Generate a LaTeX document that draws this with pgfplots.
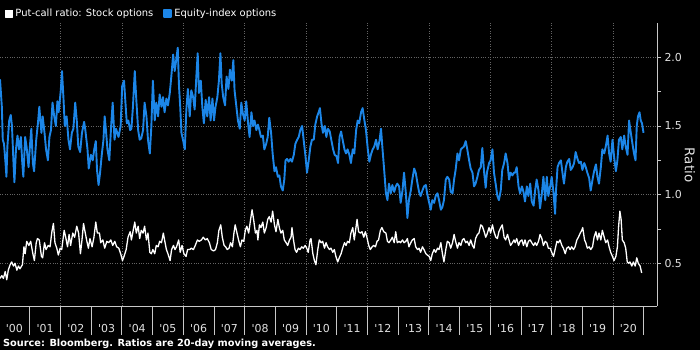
\documentclass[border=0pt]{standalone}
\usepackage{pgfplots}
\pgfplotsset{compat=1.18}
\usepackage{fontspec}
\setmainfont{DejaVu Sans}
\newfontfamily\dv{DejaVu Sans}
\definecolor{bblue}{RGB}{28,134,232}
\definecolor{axgray}{RGB}{200,200,200}
\definecolor{grgray}{RGB}{100,100,100}
\definecolor{lblgray}{RGB}{225,225,225}
\begin{document}
\begin{tikzpicture}[x=1bp,y=1bp]
\path[use as bounding box, fill=black] (0,0) rectangle (700,350);
\begin{axis}[
  at={(0bp,44bp)}, anchor=south west,
  width=657bp, height=283bp, scale only axis,
  xmin=2000.03, xmax=2021.43, ymin=0.189, ymax=2.25,
  axis x line*=bottom, axis y line*=right,
  axis line style={-, draw=axgray, line width=0.8bp},
  tick align=outside,
  major tick length=4bp, minor tick length=4bp,
  every tick/.style={draw=axgray, line width=0.8bp},
  every major x tick/.style={draw=none},
  xtick={2000.5,2001.5,...,2020.5},
  xticklabels={'00,'01,'02,'03,'04,'05,'06,'07,'08,'09,'10,'11,'12,'13,'14,'15,'16,'17,'18,'19,'20},
  minor xtick={2002,2004,...,2020},
  extra x ticks={2001,2002,...,2021},
  extra x tick labels={},
  extra tick style={major tick length=29bp, grid=none, every major x tick/.style={draw=axgray, line width=0.8bp}},
  xminorgrids=true, ymajorgrids=true, xmajorgrids=false, yminorgrids=false,
  grid style={draw=grgray, dotted, line width=0.6bp},
  minor grid style={draw=grgray, dotted, line width=0.6bp},
  ytick={0.5,1.0,1.5,2.0},
  yticklabels={0.5,1.0,1.5,2.0},
  minor ytick={0.75,1.25,1.75},
  xticklabel style={font=\dv\fontsize{11}{13}\selectfont, text=lblgray, yshift=-10.5bp},
  yticklabel style={font=\dv\fontsize{11}{13}\selectfont, text=lblgray},
  /pgf/number format/assume math mode=true,
  every axis y label/.style={at={(axis description cs:1.0502,0.498)}, anchor=center, rotate=-90},
  ylabel={\dv\fontsize{13.5}{15}\selectfont\color{lblgray}Ratio},
  legend columns=2,
  legend image code/.code={\fill[#1] (0bp,-3.5bp) rectangle (7bp,3.5bp);},
  legend style={at={(axis description cs:0.0076,1.032)}, anchor=west,
    draw=none, fill=none, text=white, font=\dv\fontsize{10}{12}\selectfont,
    inner xsep=0pt, inner ysep=0pt,
    nodes={inner xsep=2bp, inner ysep=1bp},
    /tikz/every even column/.append style={column sep=8bp}},
]
\addplot[white, line width=1.3bp, line join=round] coordinates {
(2000.03,0.39)(2000.09,0.41)(2000.14,0.39)(2000.20,0.44)(2000.25,0.38)(2000.30,0.45)(2000.36,0.49)(2000.41,0.51)(2000.47,0.48)(2000.52,0.50)(2000.58,0.45)(2000.63,0.48)(2000.68,0.46)(2000.76,0.49)(2000.81,0.62)(2000.85,0.57)(2000.90,0.66)(2000.97,0.63)
(2001.03,0.66)(2001.10,0.57)(2001.15,0.52)(2001.21,0.65)(2001.25,0.68)(2001.31,0.67)(2001.38,0.55)(2001.42,0.54)(2001.48,0.65)(2001.53,0.60)(2001.60,0.63)(2001.66,0.62)(2001.72,0.73)(2001.77,0.79)(2001.82,0.65)(2001.88,0.61)(2001.93,0.56)(2001.99,0.61)
(2002.04,0.60)(2002.12,0.74)(2002.17,0.69)(2002.23,0.62)(2002.28,0.71)(2002.33,0.63)(2002.40,0.72)(2002.46,0.69)(2002.53,0.77)(2002.59,0.72)(2002.65,0.57)(2002.70,0.67)(2002.75,0.79)(2002.80,0.73)(2002.86,0.66)(2002.91,0.61)(2002.96,0.68)
(2003.03,0.62)(2003.09,0.69)(2003.15,0.80)(2003.20,0.72)(2003.27,0.72)(2003.31,0.65)(2003.38,0.67)(2003.44,0.61)(2003.51,0.66)(2003.57,0.65)(2003.64,0.67)(2003.70,0.63)(2003.77,0.66)(2003.83,0.62)(2003.90,0.61)(2003.96,0.57)
(2004.02,0.52)(2004.07,0.55)(2004.14,0.60)(2004.20,0.69)(2004.27,0.73)(2004.31,0.67)(2004.36,0.73)(2004.42,0.80)(2004.47,0.72)(2004.53,0.77)(2004.58,0.68)(2004.63,0.74)(2004.69,0.72)(2004.74,0.77)(2004.80,0.67)(2004.85,0.72)(2004.91,0.58)(2004.96,0.57)
(2005.01,0.60)(2005.07,0.57)(2005.12,0.63)(2005.18,0.62)(2005.23,0.66)(2005.29,0.65)(2005.35,0.72)(2005.39,0.67)(2005.45,0.60)(2005.50,0.57)(2005.57,0.52)(2005.62,0.60)(2005.68,0.63)(2005.73,0.60)(2005.78,0.62)(2005.85,0.67)(2005.90,0.58)(2005.96,0.63)
(2006.02,0.57)(2006.09,0.55)(2006.14,0.60)(2006.21,0.60)(2006.26,0.61)(2006.33,0.60)(2006.39,0.63)(2006.46,0.67)(2006.52,0.66)(2006.59,0.67)(2006.65,0.69)(2006.72,0.67)(2006.78,0.68)(2006.85,0.65)(2006.91,0.60)(2006.99,0.59)
(2007.05,0.60)(2007.11,0.65)(2007.16,0.74)(2007.22,0.78)(2007.27,0.69)(2007.33,0.63)(2007.38,0.62)(2007.43,0.60)(2007.49,0.61)(2007.54,0.65)(2007.60,0.62)(2007.65,0.72)(2007.69,0.78)(2007.75,0.72)(2007.80,0.67)(2007.86,0.62)(2007.91,0.67)(2007.97,0.66)
(2008.02,0.74)(2008.07,0.77)(2008.13,0.72)(2008.18,0.80)(2008.24,0.89)(2008.29,0.82)(2008.35,0.72)(2008.40,0.74)(2008.43,0.67)(2008.48,0.78)(2008.53,0.76)(2008.59,0.80)(2008.64,0.72)(2008.70,0.76)(2008.75,0.82)(2008.80,0.84)(2008.86,0.80)(2008.91,0.88)(2008.97,0.78)
(2009.02,0.73)(2009.08,0.82)(2009.13,0.76)(2009.18,0.72)(2009.24,0.74)(2009.29,0.67)(2009.35,0.65)(2009.40,0.63)(2009.46,0.67)(2009.51,0.69)(2009.54,0.76)(2009.59,0.67)(2009.64,0.60)(2009.69,0.58)(2009.75,0.61)(2009.80,0.60)(2009.86,0.62)(2009.91,0.61)(2009.97,0.63)
(2010.02,0.61)(2010.07,0.58)(2010.13,0.67)(2010.16,0.68)(2010.22,0.57)(2010.27,0.52)(2010.32,0.49)(2010.38,0.60)(2010.43,0.67)(2010.49,0.65)(2010.54,0.66)(2010.60,0.61)(2010.65,0.65)(2010.70,0.62)(2010.76,0.60)(2010.81,0.61)(2010.87,0.58)(2010.92,0.60)(2010.97,0.55)
(2011.03,0.51)(2011.08,0.54)(2011.14,0.57)(2011.19,0.61)(2011.25,0.65)(2011.30,0.63)(2011.35,0.66)(2011.41,0.65)(2011.46,0.72)(2011.52,0.76)(2011.57,0.67)(2011.63,0.77)(2011.66,0.82)(2011.71,0.73)(2011.77,0.72)(2011.82,0.73)(2011.88,0.69)(2011.93,0.73)(2011.98,0.69)
(2012.04,0.63)(2012.09,0.60)(2012.15,0.62)(2012.20,0.63)(2012.26,0.62)(2012.31,0.66)(2012.36,0.67)(2012.42,0.74)(2012.47,0.76)(2012.53,0.73)(2012.60,0.72)(2012.65,0.66)(2012.70,0.65)(2012.76,0.67)(2012.81,0.69)(2012.87,0.65)(2012.92,0.73)(2012.97,0.65)
(2013.03,0.66)(2013.08,0.65)(2013.14,0.67)(2013.19,0.65)(2013.25,0.66)(2013.30,0.68)(2013.35,0.62)(2013.41,0.65)(2013.46,0.67)(2013.52,0.68)(2013.57,0.62)(2013.63,0.60)(2013.68,0.61)(2013.73,0.58)(2013.79,0.62)(2013.84,0.60)(2013.90,0.57)(2013.95,0.56)
(2014.01,0.55)(2014.06,0.52)(2014.11,0.57)(2014.17,0.60)(2014.22,0.58)(2014.28,0.61)(2014.33,0.60)(2014.39,0.65)(2014.44,0.57)(2014.49,0.51)(2014.55,0.60)(2014.60,0.66)(2014.66,0.65)(2014.71,0.61)(2014.77,0.65)(2014.82,0.71)(2014.87,0.66)(2014.93,0.61)(2014.98,0.65)
(2015.04,0.63)(2015.09,0.67)(2015.14,0.68)(2015.20,0.65)(2015.25,0.66)(2015.31,0.63)(2015.36,0.67)(2015.42,0.63)(2015.47,0.61)(2015.52,0.68)(2015.58,0.71)(2015.63,0.72)(2015.69,0.78)(2015.74,0.77)(2015.80,0.73)(2015.85,0.69)(2015.89,0.71)(2015.96,0.76)
(2016.01,0.72)(2016.07,0.78)(2016.12,0.73)(2016.18,0.69)(2016.23,0.68)(2016.28,0.73)(2016.34,0.76)(2016.39,0.78)(2016.45,0.69)(2016.50,0.67)(2016.56,0.71)(2016.61,0.67)(2016.66,0.63)(2016.72,0.65)(2016.77,0.67)(2016.81,0.65)(2016.86,0.68)(2016.92,0.63)(2016.97,0.66)
(2017.03,0.67)(2017.08,0.63)(2017.13,0.67)(2017.19,0.62)(2017.24,0.66)(2017.30,0.67)(2017.35,0.65)(2017.41,0.63)(2017.46,0.65)(2017.51,0.63)(2017.57,0.66)(2017.62,0.71)(2017.68,0.68)(2017.73,0.63)(2017.79,0.66)(2017.84,0.65)(2017.89,0.61)(2017.95,0.61)
(2018.00,0.58)(2018.06,0.55)(2018.11,0.60)(2018.17,0.66)(2018.22,0.65)(2018.27,0.67)(2018.33,0.63)(2018.38,0.61)(2018.44,0.57)(2018.49,0.61)(2018.55,0.62)(2018.60,0.60)(2018.65,0.62)(2018.71,0.60)(2018.76,0.62)(2018.82,0.67)(2018.87,0.69)(2018.93,0.72)(2018.98,0.74)
(2019.01,0.76)(2019.07,0.67)(2019.11,0.65)(2019.16,0.61)(2019.22,0.62)(2019.27,0.60)(2019.33,0.62)(2019.38,0.69)(2019.44,0.73)(2019.49,0.67)(2019.54,0.72)(2019.60,0.67)(2019.65,0.74)(2019.71,0.69)(2019.76,0.65)(2019.82,0.67)(2019.87,0.62)(2019.92,0.58)(2019.98,0.55)
(2020.03,0.52)(2020.09,0.55)(2020.14,0.62)(2020.18,0.77)(2020.22,0.88)(2020.26,0.82)(2020.30,0.67)(2020.36,0.65)(2020.41,0.61)(2020.46,0.51)(2020.50,0.50)(2020.55,0.51)(2020.61,0.48)(2020.66,0.51)(2020.72,0.48)(2020.77,0.54)(2020.82,0.50)(2020.88,0.48)(2020.93,0.43)
};
\addlegendentry{Put-call ratio: Stock options}
\addplot[bblue, line width=1.9bp, line join=round] coordinates {
(2000.03,1.84)(2000.09,1.64)(2000.12,1.40)(2000.16,1.37)(2000.21,1.23)(2000.24,1.13)(2000.27,1.35)(2000.33,1.54)(2000.38,1.58)(2000.42,1.50)(2000.47,1.23)(2000.50,1.09)(2000.55,1.33)(2000.60,1.43)(2000.65,1.33)(2000.71,1.42)(2000.75,1.25)(2000.79,1.13)(2000.85,1.42)(2000.90,1.34)(2000.96,1.20)
(2001.01,1.37)(2001.05,1.48)(2001.10,1.23)(2001.14,1.17)(2001.21,1.40)(2001.27,1.53)(2001.31,1.64)(2001.38,1.45)(2001.42,1.57)(2001.48,1.45)(2001.53,1.33)(2001.59,1.25)(2001.64,1.42)(2001.69,1.47)(2001.74,1.67)(2001.79,1.58)(2001.85,1.50)(2001.90,1.68)(2001.94,1.60)
(2002.01,1.76)(2002.05,1.90)(2002.10,1.69)(2002.14,1.50)(2002.20,1.57)(2002.26,1.40)(2002.31,1.33)(2002.37,1.45)(2002.42,1.48)(2002.48,1.67)(2002.53,1.54)(2002.58,1.35)(2002.64,1.31)(2002.70,1.45)(2002.77,1.53)(2002.81,1.47)(2002.88,1.33)(2002.92,1.19)(2002.99,1.29)
(2003.05,1.25)(2003.10,1.33)(2003.15,1.39)(2003.19,1.18)(2003.24,1.07)(2003.29,1.16)(2003.34,1.28)(2003.40,1.40)(2003.44,1.57)(2003.48,1.47)(2003.53,1.33)(2003.59,1.25)(2003.65,1.50)(2003.70,1.67)(2003.76,1.40)(2003.81,1.48)(2003.89,1.42)(2003.96,1.50)
(2004.01,1.79)(2004.07,1.83)(2004.11,1.69)(2004.16,1.52)(2004.21,1.54)(2004.27,1.47)(2004.31,1.48)(2004.36,1.64)(2004.42,1.90)(2004.47,1.69)(2004.53,1.47)(2004.58,1.40)(2004.63,1.41)(2004.69,1.47)(2004.74,1.67)(2004.80,1.57)(2004.85,1.40)(2004.91,1.30)(2004.96,1.50)
(2005.01,1.83)(2005.07,1.54)(2005.12,1.67)(2005.18,1.57)(2005.23,1.73)(2005.29,1.64)(2005.34,1.71)(2005.39,1.60)(2005.45,1.70)(2005.50,1.65)(2005.56,1.74)(2005.61,1.86)(2005.67,2.02)(2005.72,1.90)(2005.77,1.98)(2005.82,2.07)(2005.86,1.79)(2005.90,1.64)(2005.94,1.45)(2005.99,1.40)
(2006.05,1.33)(2006.10,1.62)(2006.15,1.77)(2006.21,1.57)(2006.26,1.76)(2006.32,1.71)(2006.37,1.62)(2006.43,1.88)(2006.47,2.03)(2006.51,1.74)(2006.57,1.83)(2006.62,1.64)(2006.67,1.52)(2006.73,1.69)(2006.78,1.57)(2006.84,1.71)(2006.89,1.54)(2006.95,1.70)
(2007.00,1.54)(2007.05,1.64)(2007.11,1.71)(2007.16,1.83)(2007.21,2.03)(2007.25,1.81)(2007.30,1.71)(2007.36,1.65)(2007.41,1.86)(2007.47,1.77)(2007.52,1.91)(2007.58,1.83)(2007.63,1.98)(2007.67,1.76)(2007.73,1.64)(2007.78,1.54)(2007.84,1.48)(2007.89,1.67)(2007.94,1.59)
(2008.00,1.54)(2008.05,1.68)(2008.11,1.52)(2008.16,1.42)(2008.22,1.60)(2008.27,1.50)(2008.32,1.54)(2008.38,1.47)(2008.43,1.51)(2008.48,1.47)(2008.53,1.42)(2008.59,1.43)(2008.64,1.33)(2008.70,1.37)(2008.75,1.42)(2008.80,1.56)(2008.86,1.45)(2008.91,1.30)(2008.97,1.17)
(2009.02,1.20)(2009.08,1.13)(2009.13,1.14)(2009.18,1.06)(2009.24,1.03)(2009.29,1.11)(2009.33,1.25)(2009.38,1.26)(2009.43,1.24)(2009.49,1.26)(2009.54,1.24)(2009.60,1.29)(2009.65,1.37)(2009.71,1.40)(2009.76,1.42)(2009.81,1.47)(2009.87,1.50)(2009.92,1.40)(2009.98,1.28)
(2010.03,1.16)(2010.08,1.24)(2010.14,1.35)(2010.19,1.40)(2010.25,1.40)(2010.30,1.51)(2010.36,1.57)(2010.41,1.60)(2010.45,1.63)(2010.50,1.52)(2010.55,1.45)(2010.61,1.50)(2010.66,1.42)(2010.71,1.48)(2010.77,1.46)(2010.82,1.40)(2010.88,1.33)(2010.93,1.29)(2010.99,1.28)
(2011.04,1.23)(2011.09,1.42)(2011.14,1.46)(2011.19,1.40)(2011.25,1.33)(2011.30,1.30)(2011.35,1.33)(2011.41,1.29)(2011.46,1.23)(2011.52,1.33)(2011.57,1.30)(2011.63,1.47)(2011.68,1.54)(2011.73,1.52)(2011.79,1.60)(2011.84,1.63)(2011.90,1.54)(2011.95,1.47)
(2012.01,1.33)(2012.06,1.24)(2012.11,1.29)(2012.17,1.33)(2012.22,1.35)(2012.28,1.40)(2012.33,1.33)(2012.39,1.39)(2012.44,1.48)(2012.49,1.33)(2012.55,1.16)(2012.60,1.01)(2012.65,0.96)(2012.70,1.08)(2012.76,1.01)(2012.81,1.07)(2012.87,1.02)(2012.92,1.06)(2012.97,1.08)
(2013.03,1.06)(2013.08,0.94)(2013.14,1.03)(2013.19,1.16)(2013.25,1.01)(2013.30,0.83)(2013.35,0.96)(2013.41,1.03)(2013.46,1.11)(2013.52,1.19)(2013.57,1.16)(2013.63,1.08)(2013.68,1.02)(2013.73,0.99)(2013.79,1.03)(2013.84,1.06)(2013.90,1.07)(2013.95,1.00)
(2014.01,0.94)(2014.06,0.89)(2014.11,0.96)(2014.17,0.94)(2014.22,0.99)(2014.28,1.01)(2014.33,0.96)(2014.39,0.89)(2014.44,0.91)(2014.49,0.96)(2014.55,1.11)(2014.60,1.13)(2014.66,1.11)(2014.71,1.02)(2014.77,1.01)(2014.82,1.11)(2014.87,1.18)(2014.93,1.30)(2014.98,1.25)
(2015.04,1.33)(2015.09,1.34)(2015.14,1.35)(2015.20,1.39)(2015.25,1.33)(2015.31,1.25)(2015.36,1.19)(2015.42,1.16)(2015.47,1.06)(2015.52,1.08)(2015.58,1.13)(2015.63,1.18)(2015.69,1.20)(2015.74,1.34)(2015.80,1.16)(2015.85,1.05)(2015.89,1.16)(2015.96,1.23)
(2016.01,1.25)(2016.07,1.33)(2016.12,1.16)(2016.18,1.07)(2016.23,0.99)(2016.28,0.96)(2016.34,1.03)(2016.39,1.18)(2016.45,1.23)(2016.50,1.30)(2016.56,1.23)(2016.61,1.11)(2016.66,1.16)(2016.72,1.14)(2016.77,1.16)(2016.81,1.16)(2016.86,1.20)(2016.92,1.06)(2016.97,1.01)
(2017.03,1.06)(2017.08,1.02)(2017.13,0.95)(2017.19,1.06)(2017.24,0.99)(2017.30,1.08)(2017.35,0.95)(2017.41,0.92)(2017.46,1.03)(2017.51,1.11)(2017.57,1.03)(2017.62,0.90)(2017.68,1.01)(2017.73,1.13)(2017.79,0.96)(2017.84,1.13)(2017.89,0.99)(2017.95,1.06)
(2018.00,1.13)(2018.06,1.01)(2018.11,0.86)(2018.14,1.03)(2018.19,1.20)(2018.24,1.23)(2018.30,1.25)(2018.35,1.16)(2018.40,1.08)(2018.46,1.20)(2018.51,1.24)(2018.57,1.26)(2018.62,1.18)(2018.68,1.20)(2018.73,1.23)(2018.78,1.31)(2018.84,1.26)(2018.89,1.23)(2018.95,1.24)
(2019.00,1.18)(2019.06,1.23)(2019.11,1.20)(2019.16,1.16)(2019.22,1.12)(2019.27,1.03)(2019.33,1.11)(2019.38,1.17)(2019.44,1.22)(2019.49,1.13)(2019.54,1.08)(2019.60,1.20)(2019.65,1.33)(2019.71,1.30)(2019.76,1.35)(2019.82,1.43)(2019.87,1.30)(2019.92,1.24)(2019.98,1.40)
(2020.03,1.28)(2020.09,1.17)(2020.14,1.25)(2020.19,1.40)(2020.25,1.42)(2020.30,1.33)(2020.36,1.43)(2020.41,1.35)(2020.47,1.29)(2020.52,1.54)(2020.57,1.46)(2020.63,1.37)(2020.68,1.30)(2020.73,1.25)(2020.77,1.50)(2020.81,1.57)(2020.86,1.60)(2020.90,1.54)(2020.94,1.52)(2020.99,1.45)
};
\addlegendentry{Equity-index options}
\end{axis}
\node[anchor=west, text=white, inner sep=0pt, font=\bfseries\fontsize{9.8}{11}\selectfont] at (3,6.5) {Source: Bloomberg. Ratios are 20-day moving averages.};
\end{tikzpicture}
\end{document}
